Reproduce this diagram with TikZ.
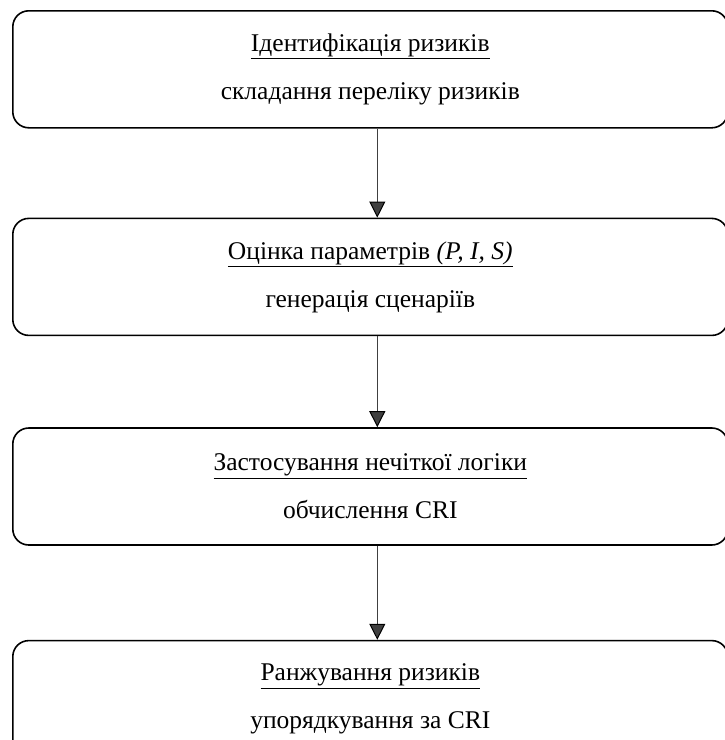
\documentclass[tikz,border=0pt]{standalone}
\usepackage{fontspec}
\setmainfont{Liberation Serif}
\usetikzlibrary{arrows.meta, positioning}

\begin{document}
\begin{tikzpicture}[x=1pt, y=1pt, node distance = 90pt,
    stage/.style = {draw, line width=1.6pt, rounded corners=16pt,
                    minimum width=715pt, minimum height=117pt, inner sep=0pt,
                    align=center, font=\fontsize{25.5}{48}\selectfont},
    flow/.style = {-{Triangle[length=16pt, width=16pt, black]}, line width=1pt, black!75}]
    \useasboundingbox (0,0) rectangle (725,-740);
    \clip (0,0) rectangle (725,-740);

    \node (ident) [stage, anchor=north west] at (12,-10)
        {\underline{Ідентифікація ризиків}\\складання переліку ризиків};
    \node (params) [stage, below=89pt of ident]
        {\underline{Оцінка параметрів \textit{(P, I, S)}}\\генерація сценаріїв};
    \node (fuzzy) [stage, below=91pt of params]
        {\underline{Застосування нечіткої логіки}\\обчислення CRI};
    \node (rank) [stage, below=94pt of fuzzy]
        {\underline{Ранжування ризиків}\\упорядкування за CRI};

    \path[flow]
        ([xshift=7pt]ident.south) edge ([xshift=7pt]params.north)
        ([xshift=7pt]params.south) edge ([xshift=7pt]fuzzy.north)
        ([xshift=7pt]fuzzy.south) edge ([xshift=7pt]rank.north);
\end{tikzpicture}
\end{document}
